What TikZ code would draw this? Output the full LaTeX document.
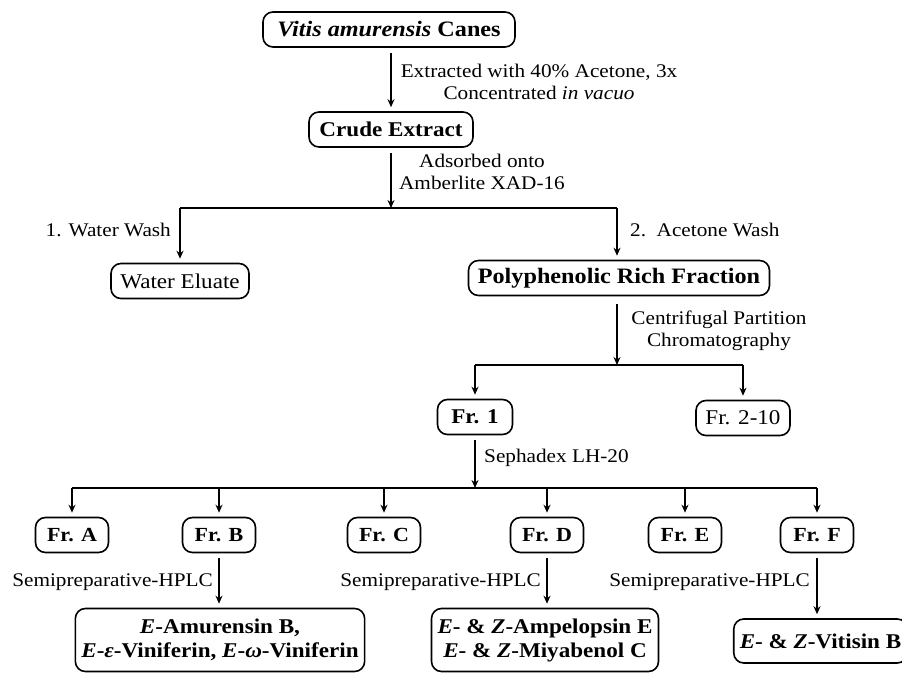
\documentclass[tikz,border=0pt]{standalone}
\usepackage{fontspec}
\setmainfont{Liberation Serif}[FakeStretch=1.1]
\usepackage{tikz}
\usetikzlibrary{arrows.meta}

\begin{document}
\begin{tikzpicture}[
  x=1pt, y=-1pt,
  box/.style={draw, line width=1.6pt, rounded corners=10pt, minimum height=35pt,
              inner xsep=6pt, inner ysep=3pt, font=\fontsize{21}{24}\selectfont},
  bbox/.style={box, font=\fontsize{21}{24}\selectfont\bfseries},
  ln/.style={line width=1.7pt},
  arr/.style={line width=1.4pt, -{Stealth[length=8pt,width=7pt]}},
  note/.style={align=center, inner sep=0pt, font=\fontsize{19.3}{22}\selectfont}
]
\useasboundingbox (0,0) rectangle (902,674);
% ---------------- extraction ----------------
\node[bbox, minimum width=252pt, font=\fontsize{22}{24}\selectfont\bfseries] (canes) at (389,29.5) {\textit{Vitis amurensis} Canes};
\node[bbox, minimum width=164pt] (crude) at (391,129.5) {Crude Extract};
\draw[arr, shorten <=5pt, shorten >=4pt] (canes.south -| crude) -- (crude);
\node[note] (ext) at (539,82) {Extracted with 40\% Acetone, 3x\\Concentrated \textit{in vacuo}};
% ---------------- XAD-16 ----------------
\coordinate (xad) at (391,208);
\coordinate (xadl) at (180,208);
\coordinate (xadr) at (617,208);
\draw[arr, shorten <=5pt] (crude) -- (xad);
\node[note] (ads) at (482,172) {Adsorbed onto\\Amberlite XAD-16};
\draw[ln] (xadl) -- (xadr);
\node[box, minimum width=138pt] (water) at (180,281) {Water Eluate};
\node[bbox, minimum width=301pt, font=\fontsize{22}{24}\selectfont\bfseries] (prf) at (619,278) {Polyphenolic Rich Fraction};
\draw[arr, shorten >=4pt] (xadl) -- (water);
\draw[arr, shorten >=4pt] (xadr) -- (xadr |- prf.north);
\node[note, anchor=east] (ww) at (171,230) {1. Water Wash};
\node[note, anchor=west] (aw) at (630,230) {2.\ \ Acetone Wash};
% ---------------- CPC ----------------
\coordinate (cpc) at (617,365);
\coordinate (cpcl) at (475,365);
\coordinate (cpcr) at (743,365);
\draw[arr, shorten <=8pt] (prf.south -| cpc) -- (cpc);
\node[note] (cpct) at (719,331) {Centrifugal Partition\\Chromatography};
\draw[ln] (cpcl) -- (cpcr);
\node[bbox, minimum width=75pt] (fr1) at (475,417) {Fr. 1};
\node[box, minimum width=94pt] (fr2) at (743,418) {Fr. 2-10};
\draw[arr, shorten >=4pt] (cpcl) -- (fr1);
\draw[arr, shorten >=4pt] (cpcr) -- (fr2);
% ---------------- Sephadex ----------------
\coordinate (lh) at (475,488);
\coordinate (lhl) at (72,488);
\coordinate (lhr) at (817,488);
\draw[arr, shorten <=5pt] (fr1) -- (lh);
\node[note, anchor=west] (lht) at (484,458) {Sephadex LH-20};
\draw[ln] (lhl) -- (lhr);
\foreach \nm/\xx/\tx in {frA/72/A, frB/219/B, frC/384/C, frD/547/D, frE/685/E, frF/817/F}{
  \node[bbox, minimum width=73pt, font=\fontsize{20}{24}\selectfont\bfseries] (\nm) at (\xx,535) {Fr. \tx};
  \coordinate (\nm top) at (\xx,488);
  \draw[arr, shorten >=4pt] (\nm top) -- (\nm);
}
% ---------------- HPLC ----------------
\node[bbox, minimum width=289pt, minimum height=63pt, align=center] (resB) at (220,640)
  {\textit{E}-Amurensin B,\\ \textit{E}-\textit{ε}-Viniferin, \textit{E}-\textit{ω}-Viniferin};
\node[bbox, minimum width=226pt, minimum height=63pt, align=center] (resD) at (545,640)
  {\textit{E}- \& \textit{Z}-Ampelopsin E\\\textit{E}- \& \textit{Z}-Miyabenol C};
\node[bbox, minimum width=161pt, minimum height=44pt] (resF) at (820.5,641)
  {\textit{E}- \& \textit{Z}-Vitisin B};
\draw[arr, shorten <=5pt, shorten >=4pt] (frB) -- (frB |- resB.north);
\draw[arr, shorten <=5pt, shorten >=4pt] (frD) -- (frD |- resD.north);
\draw[arr, shorten <=5pt, shorten >=4pt] (frF) -- (frF |- resF.north);
\node[note, anchor=east] (hB) at (213,582) {Semipreparative-HPLC};
\node[note, anchor=east] (hD) at (541,582) {Semipreparative-HPLC};
\node[note, anchor=east] (hF) at (810,582) {Semipreparative-HPLC};
\end{tikzpicture}
\end{document}
